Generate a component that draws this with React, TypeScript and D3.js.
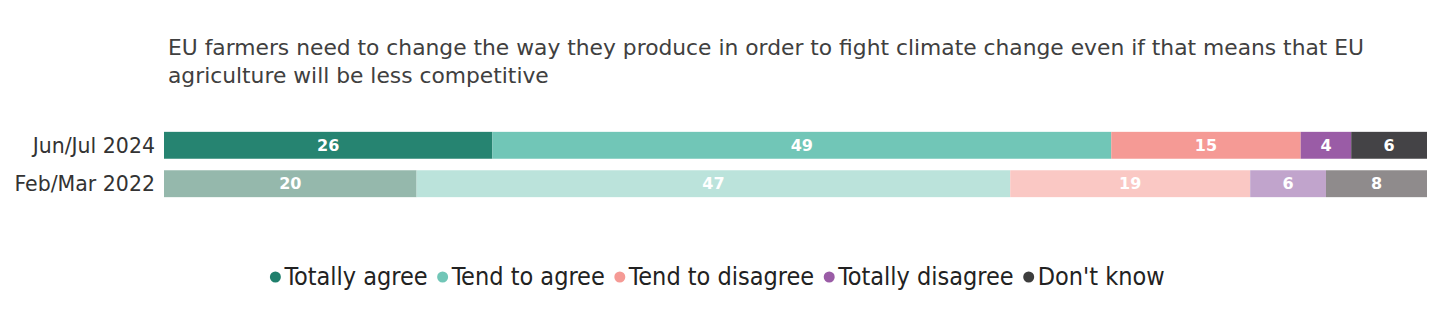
import { useEffect, useRef } from 'react'
import * as d3 from 'd3'

const periods = ['Jun/Jul 2024', 'Feb/Mar 2022']
const answers = ['Totally agree', 'Tend to agree', 'Tend to disagree', 'Totally disagree', "Don't know"]
const values2024 = [26, 49, 15, 4, 6]
const values2022 = [20, 47, 19, 6, 8]
const colors2024 = ['#268471', '#71c6b7', '#f59a95', '#9a5ca6', '#444346']
const colors2022 = ['#95b8ac', '#bbe3db', '#fac8c4', '#c1a4cc', '#8f8b8c']
const legendColors = ['#1f7f6c', '#71c6b7', '#f59a95', '#9a5ca6', '#3d3d3d']
const titleLines = [
  'EU farmers need to change the way they produce in order to fight climate change even if that means that EU',
  'agriculture will be less competitive',
]

const W = 1456
const H = 325
const font = "'DejaVu Sans', 'Noto Sans', sans-serif"
const narrow = "'DejaVu Sans Condensed', 'Liberation Sans Narrow', sans-serif"

const App = () => {
  const svgRef = useRef<SVGSVGElement | null>(null)

  useEffect(() => {
    if (!svgRef.current) return
    const svg = d3.select(svgRef.current)
    svg.selectAll('*').remove()

    // title
    svg.append('g')
      .selectAll('text')
      .data(titleLines)
      .enter()
      .append('text')
      .attr('x', 168)
      .attr('y', (_, i) => 55 + i * 28)
      .attr('font-family', font)
      .attr('font-size', 21.8)
      .attr('fill', '#404040')
      .text(d => d)

    const x = d3.scaleLinear().domain([0, 100]).range([164, 1427])
    const y = d3.scaleBand().domain(periods).range([128, 201]).paddingInner(0.3).paddingOuter(0.1)

    const rows = [values2024, values2022].map((vals, r) => {
      let acc = 0
      return vals.map((v, i) => {
        const s = { period: periods[r], start: acc, value: v, color: (r === 0 ? colors2024 : colors2022)[i] }
        acc += v
        return s
      })
    })

    const rowG = svg.selectAll('g.row')
      .data(rows)
      .enter()
      .append('g')
      .attr('class', 'row')

    rowG.selectAll('rect')
      .data(d => d)
      .enter()
      .append('rect')
      .attr('x', d => x(d.start))
      .attr('y', d => y(d.period)!)
      .attr('width', d => x(d.start + d.value) - x(d.start))
      .attr('height', y.bandwidth())
      .attr('fill', d => d.color)

    rowG.selectAll('text')
      .data(d => d)
      .enter()
      .append('text')
      .attr('x', d => (x(d.start) + x(d.start + d.value)) / 2)
      .attr('y', d => y(d.period)! + y.bandwidth() / 2)
      .attr('dy', '0.36em')
      .attr('text-anchor', 'middle')
      .attr('font-family', font)
      .attr('font-weight', 'bold')
      .attr('font-size', 16)
      .attr('fill', '#ffffff')
      .text(d => d.value)

    // category labels
    svg.selectAll('text.cat')
      .data(periods)
      .enter()
      .append('text')
      .attr('class', 'cat')
      .attr('x', 155)
      .attr('y', d => y(d)! + y.bandwidth() / 2)
      .attr('dy', '0.36em')
      .attr('text-anchor', 'end')
      .attr('font-family', font)
      .attr('font-size', 20.5)
      .attr('fill', '#333333')
      .text(d => d)

    // legend
    const legend = svg.append('g')
    let lx = 0
    answers.forEach((a, i) => {
      const item = legend.append('g').attr('transform', `translate(${lx},0)`)
      item.append('circle').attr('cx', 5).attr('cy', 1).attr('r', 5.5).attr('fill', legendColors[i])
      const t = item.append('text')
        .attr('x', 14)
        .attr('dy', '0.36em')
        .attr('font-family', narrow)
        .attr('font-size', 25)
        .attr('fill', '#222222')
        .text(a)
      lx += 14 + (t.node() as SVGTextElement).getComputedTextLength() + 10
    })
    const total = lx - 10
    legend.attr('transform', `translate(${(268 + 1167) / 2 - total / 2},276)`)
  }, [])

  return (
    <div style={{ position: 'absolute', left: 0, top: 0 }}>
      <svg ref={svgRef} width={W} height={H} style={{ display: 'block', background: '#fff' }} />
    </div>
  )
}

export default App
